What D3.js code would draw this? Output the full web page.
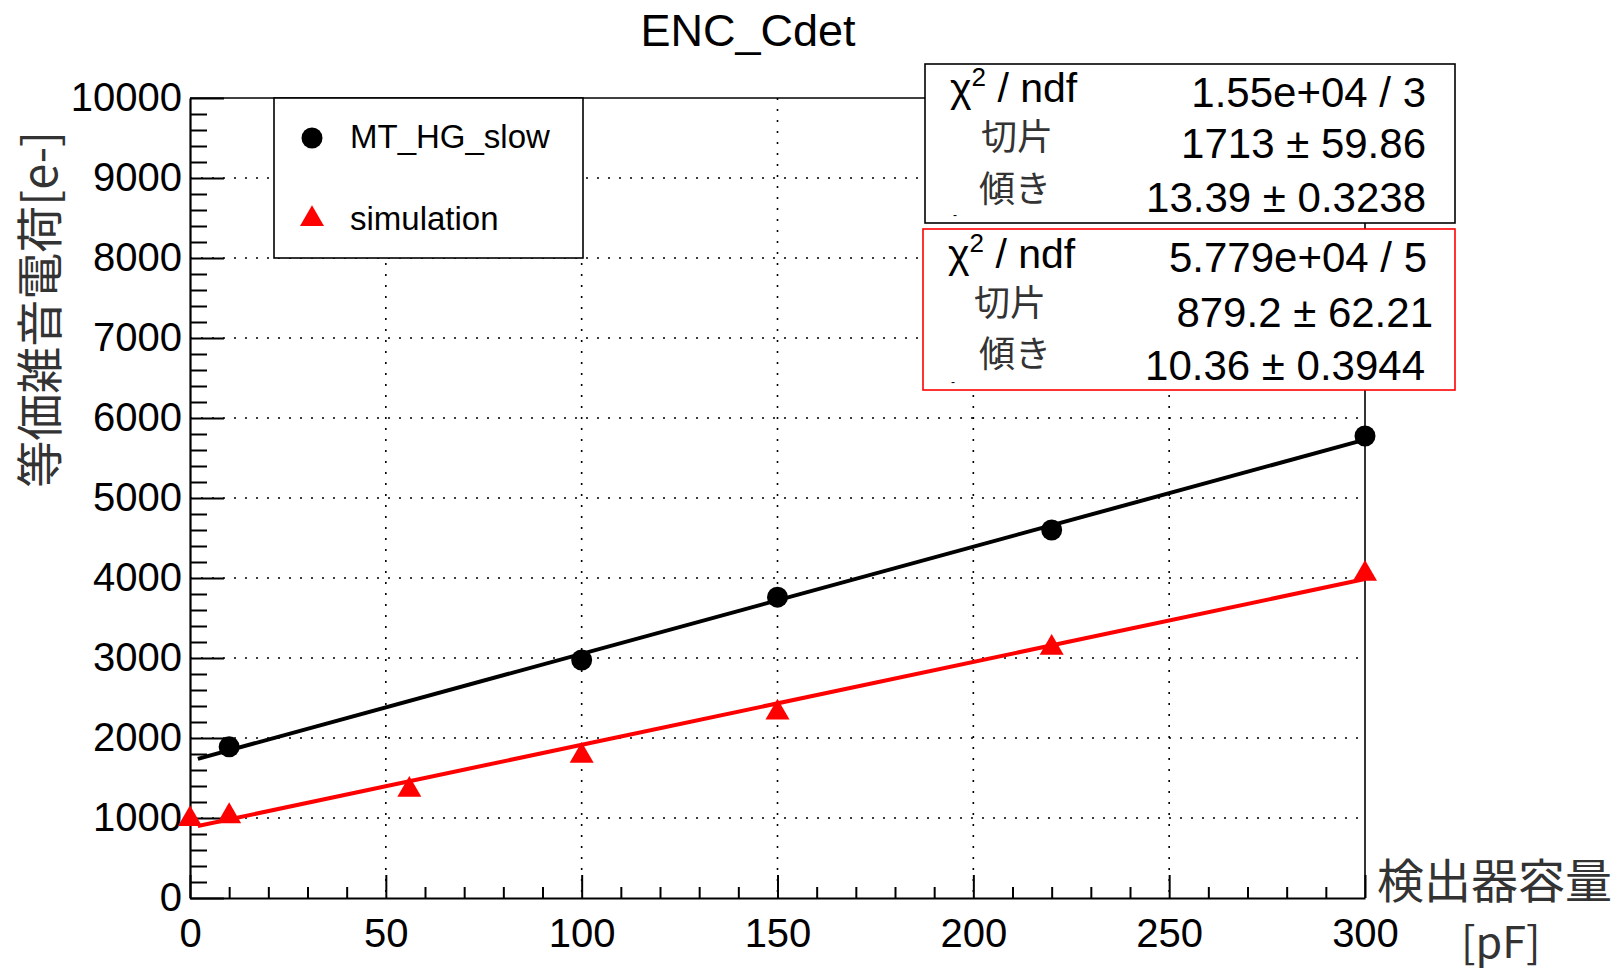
<!DOCTYPE html>
<html>
<head>
<meta charset="utf-8">
<script src="https://cdnjs.cloudflare.com/ajax/libs/d3/7.8.5/d3.min.js"></script>
<style>
  body { margin: 0; background: #fff; }
  text { font-family: "Liberation Sans", Arial, sans-serif; fill: #000; }
  .jp { font-family: "Noto Sans CJK JP", sans-serif; fill: #333; }
</style>
</head>
<body>
<script>
//data
var capBlack = [10, 100, 150, 220, 300];
var encBlack = [1890, 2975, 3760, 4600, 5775];
var capRed = [0, 10, 56, 100, 150, 220, 300];
var encRed = [1000, 1035, 1365, 1790, 2330, 3140, 4065];

//fit parameters [intercept, slope] and range
var fitBlack = [1713, 13.39];
var fitRed = [879.2, 10.36];
var fitRange = [2, 300];

var xMajor = [0, 50, 100, 150, 200, 250, 300];
var yMajor = [0, 1000, 2000, 3000, 4000, 5000, 6000, 7000, 8000, 9000, 10000];
var seriesNames = ["MT_HG_slow", "simulation"];
var statLabels = ["切片", "傾き"];
var statBlack = ["1.55e+04 / 3", "1713 \u00b1 59.86", "13.39 \u00b1 0.3238"];
var statRed = ["5.779e+04 / 5", "879.2 \u00b1 62.21", "10.36 \u00b1 0.3944"];

//setup
var margin = { top: 98, left: 190 };
var width = 1175;
var height = 800;

var svg = d3.select("body")
    .append("svg")
    .attr("width", 1620)
    .attr("height", 971);

var g = svg.append("g")
    .attr("transform", "translate(" + margin.left + "," + margin.top + ")");

var x = d3.scaleLinear().domain([0, 300]).range([0, width]);
var y = d3.scaleLinear().domain([0, 10000]).range([height, 0]);

// grid
g.selectAll(".gx")
    .data(xMajor.slice(1, -1))
    .enter().append("line")
    .attr("x1", function (d) { return x(d); })
    .attr("x2", function (d) { return x(d); })
    .attr("y1", 0).attr("y2", height)
    .attr("stroke", "#000").attr("stroke-width", 1.6)
    .attr("stroke-dasharray", "2,9");
g.selectAll(".gy")
    .data(yMajor.slice(1, -1))
    .enter().append("line")
    .attr("y1", function (d) { return y(d); })
    .attr("y2", function (d) { return y(d); })
    .attr("x1", 0).attr("x2", width)
    .attr("stroke", "#000").attr("stroke-width", 1.6)
    .attr("stroke-dasharray", "2,9");

// minor ticks
var xMinor = d3.range(0, 301, 10).filter(function (d) { return d % 50 != 0; });
var yMinor = d3.range(0, 10001, 200).filter(function (d) { return d % 1000 != 0; });

g.append("g")
    .attr("transform", "translate(0," + height + ")")
    .call(d3.axisBottom(x).tickValues(xMinor).tickSize(-11).tickFormat(""))
    .call(function (a) { a.select(".domain").remove(); });
g.append("g")
    .call(d3.axisLeft(y).tickValues(yMinor).tickSize(-17).tickFormat(""))
    .call(function (a) { a.select(".domain").remove(); });

// major ticks with labels
var xAxis = g.append("g")
    .attr("transform", "translate(0," + height + ")")
    .call(d3.axisBottom(x).tickValues(xMajor).tickFormat(d3.format("d"))
        .tickSize(-23).tickSizeOuter(0).tickPadding(21));
var yAxis = g.append("g")
    .call(d3.axisLeft(y).tickValues(yMajor).tickFormat(d3.format("d"))
        .tickSize(-34).tickSizeOuter(0).tickPadding(8));

[xAxis, yAxis].forEach(function (a) {
    a.select(".domain").attr("stroke", "#000").attr("stroke-width", 2.2);
    a.selectAll("text")
        .style("font-family", "'Liberation Sans', Arial, sans-serif")
        .style("font-size", "40px")
        .attr("fill", "#000");
});
g.selectAll(".tick line").attr("stroke", "#000").attr("stroke-width", 2);

// frame top and right
g.append("line").attr("x1", 0).attr("x2", width).attr("y1", 0).attr("y2", 0)
    .attr("stroke", "#000").attr("stroke-width", 1.6);
g.append("line").attr("x1", width).attr("x2", width).attr("y1", 0).attr("y2", height)
    .attr("stroke", "#000").attr("stroke-width", 1.6);

// fit lines
function fitLine(p) {
    return d3.line()
        .x(function (d) { return x(d); })
        .y(function (d) { return y(p[0] + p[1] * d); })(fitRange);
}
g.append("path").attr("d", fitLine(fitBlack))
    .attr("fill", "none").attr("stroke", "#000").attr("stroke-width", 4);
g.append("path").attr("d", fitLine(fitRed))
    .attr("fill", "none").attr("stroke", "#ff0000").attr("stroke-width", 4);

// markers
var tri = d3.symbol().type(d3.symbolTriangle).size(250);
g.selectAll(".pt")
    .data(capBlack)
    .enter().append("circle")
    .attr("cx", function (d) { return x(d); })
    .attr("cy", function (d, i) { return y(encBlack[i]); })
    .attr("r", 10.5)
    .attr("fill", "#000");
g.selectAll(".tri")
    .data(capRed)
    .enter().append("path")
    .attr("d", tri)
    .attr("transform", function (d, i) { return "translate(" + x(d) + "," + (y(encRed[i]) + 1) + ")"; })
    .attr("fill", "#ff0000");

// title
svg.append("text")
    .attr("x", 748).attr("y", 46)
    .attr("text-anchor", "middle")
    .style("font-size", "45px")
    .text("ENC_Cdet");

// axis titles
svg.append("text")
    .attr("class", "jp")
    .attr("transform", "translate(57,131) rotate(-90)")
    .attr("text-anchor", "end")
    .style("font-size", "47px")
    .text("等価雑音電荷[e-]");
svg.append("text")
    .attr("class", "jp")
    .attr("x", 1377).attr("y", 898)
    .style("font-size", "47px")
    .text("検出器容量");
svg.append("text")
    .attr("class", "jp")
    .attr("x", 1461).attr("y", 958)
    .style("font-size", "43px")
    .text("[pF]");

// legend
var legend = svg.append("g");
legend.append("rect")
    .attr("x", 274).attr("y", 98).attr("width", 309).attr("height", 160)
    .attr("fill", "#fff").attr("stroke", "#000").attr("stroke-width", 1.6);
legend.append("circle").attr("cx", 312).attr("cy", 138).attr("r", 10.5).attr("fill", "#000");
legend.append("path").attr("d", tri)
    .attr("transform", "translate(312,219)").attr("fill", "#ff0000");
legend.selectAll(".lt")
    .data(seriesNames)
    .enter().append("text")
    .attr("x", 350)
    .attr("y", function (d, i) { return 148 + i * 82; })
    .style("font-size", "33px")
    .text(function (d) { return d; });

// stat boxes
function statBox(bx, by, bw, bh, color, values, rows) {
    var s = svg.append("g");
    s.append("rect")
        .attr("x", bx).attr("y", by).attr("width", bw).attr("height", bh)
        .attr("fill", "#fff").attr("stroke", color).attr("stroke-width", 1.6);
    var chi = s.append("text")
        .attr("x", bx + 25).attr("y", rows.chi)
        .style("font-size", "41px");
    chi.append("tspan").text("\u03c7");
    chi.append("tspan").attr("dy", -16).style("font-size", "26px").text("2");
    chi.append("tspan").attr("dy", 16).text(" / ndf");
    s.selectAll(".sl")
        .data(statLabels)
        .enter().append("text")
        .attr("class", "jp")
        .attr("x", function (d, i) { return rows.labelX[i]; })
        .attr("y", function (d, i) { return rows.label[i]; })
        .style("font-size", "36px")
        .text(function (d) { return d; });
    s.selectAll(".sv")
        .data(values)
        .enter().append("text")
        .attr("x", function (d, i) { return rows.valueX[i]; })
        .attr("y", function (d, i) { return rows.value[i]; })
        .attr("text-anchor", "end")
        .style("font-size", "42px")
        .text(function (d) { return d; });
    s.append("text")
        .attr("x", bx + 28).attr("y", by + bh - 4)
        .style("font-size", "12px")
        .text("-");
}
statBox(925, 64, 530, 159, "#000", statBlack,
    { chi: 102, label: [150, 202], labelX: [981, 979], value: [107, 158, 212], valueX: [1426, 1426, 1426] });
statBox(923, 229, 532, 161, "#ff0000", statRed,
    { chi: 268, label: [316, 367], labelX: [974, 979], value: [272, 327, 380], valueX: [1427, 1433, 1425] });
</script>
</body>
</html>
